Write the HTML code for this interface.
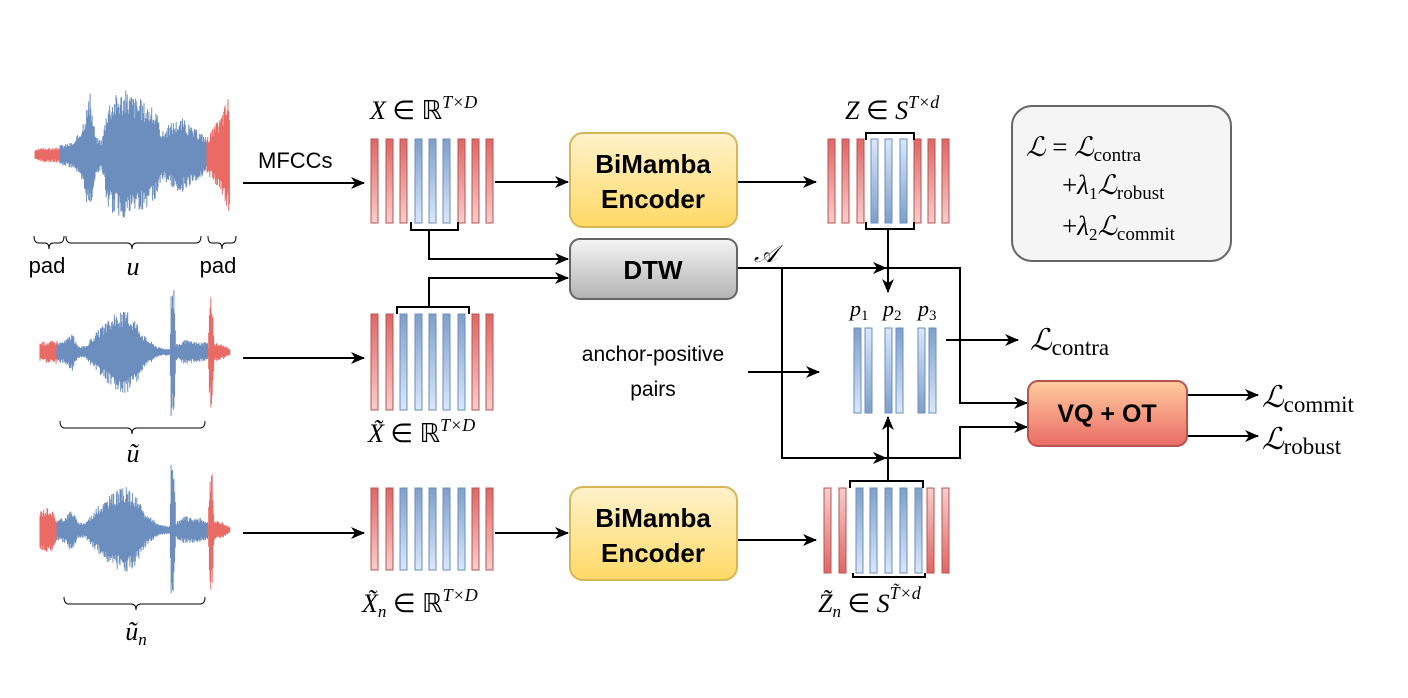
<!DOCTYPE html>
<html><head><meta charset="utf-8"><style>
html,body{margin:0;padding:0;background:#fff;width:1408px;height:698px;overflow:hidden}
svg{display:block}
.m{font-family:"Liberation Serif",serif;font-style:italic}
.r{font-family:"Liberation Serif",serif}
.s{font-family:"Liberation Sans",sans-serif}
</style></head><body>
<svg id="sv" width="1408" height="698" viewBox="0 0 1408 698" xmlns="http://www.w3.org/2000/svg">
<defs>
<linearGradient id="gr" x1="0" y1="0" x2="0" y2="1"><stop offset="0" stop-color="#e06666"/><stop offset="1" stop-color="#f8cecc"/></linearGradient>
<linearGradient id="gr2" x1="0" y1="0" x2="0" y2="1"><stop offset="0" stop-color="#f8cecc"/><stop offset="1" stop-color="#e06666"/></linearGradient>
<linearGradient id="gb" x1="0" y1="0" x2="0" y2="1"><stop offset="0" stop-color="#7e9fc9"/><stop offset="1" stop-color="#dae8fc"/></linearGradient>
<linearGradient id="gb2" x1="0" y1="0" x2="0" y2="1"><stop offset="0" stop-color="#dae8fc"/><stop offset="1" stop-color="#7e9fc9"/></linearGradient>
<linearGradient id="gy" x1="0" y1="0" x2="0" y2="1"><stop offset="0" stop-color="#fff2cc"/><stop offset="1" stop-color="#ffd966"/></linearGradient>
<linearGradient id="gg" x1="0" y1="0" x2="0" y2="1"><stop offset="0" stop-color="#f5f5f5"/><stop offset="1" stop-color="#b3b3b3"/></linearGradient>
<linearGradient id="go" x1="0" y1="0" x2="0" y2="1"><stop offset="0" stop-color="#ffcd9e"/><stop offset="1" stop-color="#ea6b66"/></linearGradient>
<marker id="ah" viewBox="0 0 14 14" refX="13" refY="7" markerWidth="14" markerHeight="14" markerUnits="userSpaceOnUse" orient="auto"><path d="M0,1 L14,7 L0,13 L4,7 z" fill="#000"/></marker>
</defs>
<g id="waves"></g>
<g id="bars"></g>
<g fill="none" stroke="#000" stroke-width="2">
<path d="M34,236 q0,7 5,7 h6 q4,0 4,6 q0,-6 4,-6 h6 q5,0 5,-7" stroke-width="1"/>
<path d="M66,236 q0,7 5,7 h56 q5,0 5,6 q0,-6 5,-6 h59 q5,0 5,-7" stroke-width="1"/>
<path d="M208,236 q0,7 4,7 h6 q4,0 4,6 q0,-6 4,-6 h6 q4,0 4,-7" stroke-width="1"/>
<path d="M60,421 q0,7 5,7 h62 q5,0 5,6 q0,-6 5,-6 h63 q5,0 5,-7" stroke-width="1"/>
<path d="M64,597 q0,7 5,7 h62 q5,0 5,6 q0,-6 5,-6 h59 q5,0 5,-7" stroke-width="1"/>
<path d="M243,183 H364" marker-end="url(#ah)"/>
<path d="M243,358 H364" marker-end="url(#ah)"/>
<path d="M243,533 H364" marker-end="url(#ah)"/>
<path d="M495,182 H568" marker-end="url(#ah)"/>
<path d="M737,182 H816" marker-end="url(#ah)"/>
<path d="M495,533 H568" marker-end="url(#ah)"/>
<path d="M737,540 H816" marker-end="url(#ah)"/>
<path d="M411,222 V230 H458 V222"/>
<path d="M429,230 V259 H568" marker-end="url(#ah)"/>
<path d="M397,314 V307 H469 V314"/>
<path d="M429,307 V278 H568" marker-end="url(#ah)"/>
<path d="M866,140 V133 H914 V140"/>
<path d="M866,222 V229 H914 V222"/>
<path d="M888,229 V292" marker-end="url(#ah)"/>
<path d="M737,268 H886" marker-end="url(#ah)"/>
<path d="M886,268 H960 V403 H1027" marker-end="url(#ah)"/>
<path d="M782,268 V458 H886" marker-end="url(#ah)"/>
<path d="M886,458 H960 V427 H1027" marker-end="url(#ah)"/>
<path d="M850,488 V481 H923 V488"/>
<path d="M853,573 V577 H925 V573"/>
<path d="M888,481 V417" marker-end="url(#ah)"/>
<path d="M748,372 H819" marker-end="url(#ah)"/>
<path d="M946,340 H1018" marker-end="url(#ah)"/>
<path d="M1187,395 H1258" marker-end="url(#ah)"/>
<path d="M1187,436 H1258" marker-end="url(#ah)"/>
</g>
<rect x="570" y="133" width="167" height="94" rx="13" fill="url(#gy)" stroke="#d6b656" stroke-width="2"/>
<text x="653" y="173" text-anchor="middle" class="s" font-weight="bold" font-size="26">BiMamba</text>
<text x="653" y="208" text-anchor="middle" class="s" font-weight="bold" font-size="26">Encoder</text>
<rect x="570" y="239" width="167" height="60" rx="10" fill="url(#gg)" stroke="#666" stroke-width="2"/>
<text x="653" y="279" text-anchor="middle" class="s" font-weight="bold" font-size="26">DTW</text>
<rect x="570" y="487" width="167" height="93" rx="13" fill="url(#gy)" stroke="#d6b656" stroke-width="2"/>
<text x="653" y="527" text-anchor="middle" class="s" font-weight="bold" font-size="26">BiMamba</text>
<text x="653" y="562" text-anchor="middle" class="s" font-weight="bold" font-size="26">Encoder</text>
<rect x="1028" y="381" width="159" height="65" rx="10" fill="url(#go)" stroke="#b85450" stroke-width="2"/>
<text x="1107" y="422" text-anchor="middle" class="s" font-weight="bold" font-size="25">VQ + OT</text>
<rect x="1012" y="106" width="219" height="155" rx="20" fill="#f5f5f5" stroke="#666" stroke-width="2"/>
<text x="258" y="168" class="s" font-size="22">MFCCs</text>
<text x="47" y="273" text-anchor="middle" class="s" font-size="22">pad</text>
<text x="218" y="273" text-anchor="middle" class="s" font-size="22">pad</text>
<text x="133" y="275" text-anchor="middle" class="m" font-size="26">u</text>
<text x="133" y="462" text-anchor="middle" class="m" font-size="26">ũ</text>
<text x="136" y="640" text-anchor="middle" class="m" font-size="26">ũ<tspan font-size="17" dy="5">n</tspan></text>
<text x="370" y="119" class="m" font-size="26">X <tspan font-style="normal">∈ ℝ</tspan><tspan font-size="18" dy="-11">T×D</tspan></text>
<text x="368" y="442" class="m" font-size="26">X̃ <tspan font-style="normal">∈ ℝ</tspan><tspan font-size="18" dy="-11">T×D</tspan></text>
<text x="362" y="612" class="m" font-size="26">X̃<tspan font-size="17" dy="5">n</tspan><tspan dy="-5" font-style="normal"> ∈ ℝ</tspan><tspan font-size="18" dy="-11">T×D</tspan></text>
<text x="845" y="119" class="m" font-size="26">Z <tspan font-style="normal">∈</tspan> S<tspan font-size="18" dy="-11">T×d</tspan></text>
<text x="818" y="612" class="m" font-size="26">Z̃<tspan font-size="17" dy="5">n</tspan><tspan dy="-5" font-style="normal"> ∈</tspan> S<tspan font-size="18" dy="-13">T̃×d</tspan></text>
<text x="754" y="262" class="m" font-size="24">𝒜</text>
<text x="850" y="316" class="m" font-size="22">p<tspan font-size="15" font-style="normal" dy="4">1</tspan></text>
<text x="883" y="316" class="m" font-size="22">p<tspan font-size="15" font-style="normal" dy="4">2</tspan></text>
<text x="918" y="316" class="m" font-size="22">p<tspan font-size="15" font-style="normal" dy="4">3</tspan></text>
<text x="653" y="361" text-anchor="middle" class="s" font-size="21">anchor-positive</text>
<text x="653" y="396" text-anchor="middle" class="s" font-size="21">pairs</text>
<text x="1030" y="350" class="m" font-size="30">ℒ<tspan class="r" font-style="normal" font-size="23" dy="5">contra</tspan></text>
<text x="1262" y="407" class="m" font-size="30">ℒ<tspan class="r" font-style="normal" font-size="23" dy="5">commit</tspan></text>
<text x="1262" y="449" class="m" font-size="30">ℒ<tspan class="r" font-style="normal" font-size="23" dy="5">robust</tspan></text>
<text x="1026" y="156" class="m" font-size="27">ℒ <tspan font-style="normal">=</tspan> ℒ<tspan class="r" font-style="normal" font-size="19" dy="5">contra</tspan></text>
<text x="1062" y="194" class="r" font-size="27">+<tspan class="m">λ</tspan><tspan font-size="17" dy="5">1</tspan><tspan class="m" dy="-5">ℒ</tspan><tspan font-size="19" dy="5">robust</tspan></text>
<text x="1062" y="235" class="r" font-size="27">+<tspan class="m">λ</tspan><tspan font-size="17" dy="5">2</tspan><tspan class="m" dy="-5">ℒ</tspan><tspan font-size="19" dy="5">commit</tspan></text>
</svg>
<script>
var NS="http://www.w3.org/2000/svg";
function el(p,t,a){var e=document.createElementNS(NS,t);for(var k in a)e.setAttribute(k,a[k]);p.appendChild(e);return e;}
var B=document.getElementById("bars");
function bars(xs,colors,y1,y2,w){for(var i=0;i<xs.length;i++){var c=colors[i];
 var f={r:"url(#gr)",R:"url(#gr2)",b:"url(#gb)",B:"url(#gb2)"}[c];
 var s=(c=="r"||c=="R")?"#b85450":"#6c8ebf";
 el(B,"rect",{x:xs[i],y:y1,width:w,height:y2-y1,fill:f,stroke:s,"stroke-width":1});}}
var X=[371,386,400,415,429,443,458,472,486];
bars(X,"rrrbbbrrr".split(""),139,223,7);
bars(X,"rrbbbbbrr".split(""),314,410,7);
bars(X,"rrbbbbbrr".split(""),488,570,7);
bars([828,842,857,871,885,900,914,928,942],"rrrBBBrrr".split(""),139,223,7);
bars([824,839,856,870,885,900,915,927,942],"RRbbbbbRR".split(""),488,573,7);
bars([854,865,885,896,918,929],"bBBbBb".split(""),328,413,7);
var W=document.getElementById("waves");
var seed=3;function rnd(){seed=(seed*9301+49297)%233280;return seed/233280;}
function interp(pts,x){for(var i=0;i<pts.length-1;i++){if(x>=pts[i][0]&&x<=pts[i+1][0]){var t=(x-pts[i][0])/(pts[i+1][0]-pts[i][0]);return pts[i][1]+t*(pts[i+1][1]-pts[i][1]);}}return 0;}
function wave(cy,x0,x1,env,col){var d="";for(var x=x0;x<=x1;x+=0.7){var a=interp(env,x);var u=a*(0.6+0.4*rnd()),l=a*(0.6+0.4*rnd());d+="M"+x.toFixed(1)+","+(cy-u).toFixed(1)+"V"+(cy+l).toFixed(1);}
 el(W,"path",{d:d,stroke:col,"stroke-width":1,fill:"none"});}
var BL="#6c8ebf",RD="#ea6b66";
wave(155,35,60,[[35,5],[45,8],[55,7],[60,9]],RD);
wave(155,60,207,[[60,10],[75,14],[82,32],[90,62],[96,18],[102,16],[108,55],[118,64],[128,66],[138,58],[148,52],[156,44],[162,24],[172,34],[182,38],[192,28],[200,24],[207,18]],BL);
wave(155,207,230,[[207,18],[220,38],[228,60],[230,52]],RD);
wave(352,40,57,[[40,10],[57,12]],RD);
wave(352,57,208,[[57,10],[65,12],[72,20],[78,6],[85,6],[100,24],[115,38],[125,42],[135,34],[145,16],[158,5],[170,3],[171,68],[174,68],[176,8],[185,12],[200,10],[208,10]],BL);
wave(352,208,230,[[208,6],[210,58],[212,58],[214,10],[222,8],[230,3]],RD);
wave(530,40,57,[[40,20],[50,25],[57,10]],RD);
wave(530,57,208,[[57,10],[65,14],[72,22],[78,8],[85,8],[100,26],[115,39],[125,44],[135,36],[145,18],[158,6],[170,4],[171,66],[174,66],[176,8],[185,14],[200,12],[208,10]],BL);
wave(530,208,230,[[208,6],[210,62],[212,62],[214,10],[222,8],[230,3]],RD);
</script>
</body></html>
